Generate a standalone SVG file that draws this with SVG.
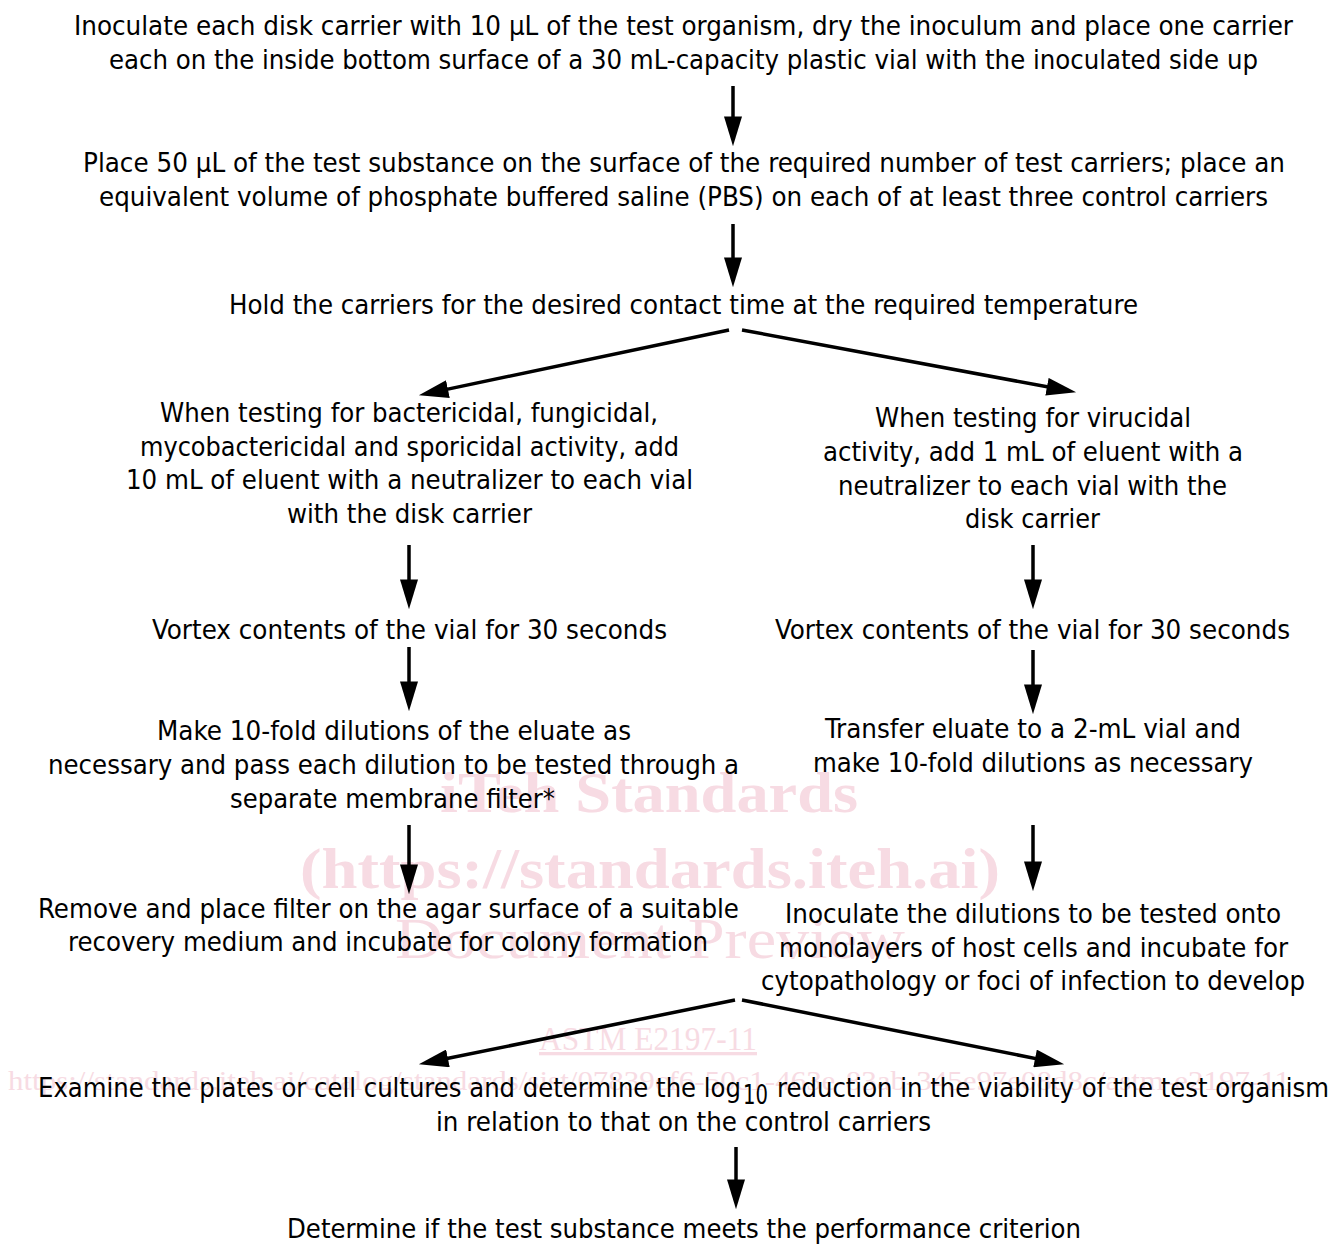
<svg xmlns="http://www.w3.org/2000/svg" width="1333" height="1244" viewBox="0 0 1333 1244">
<style>
.t{font-family:"DejaVu Sans Condensed","DejaVu Sans","Noto Sans",sans-serif;font-size:27px;fill:#000;}
.c{text-anchor:middle;}
.wm{font-family:"Liberation Serif",serif;fill:#f7dbe3;text-anchor:middle;}
.ln{stroke:#000;stroke-width:3.5;fill:none;marker-end:url(#ah);}
</style>
<defs>
<marker id="ah" markerUnits="userSpaceOnUse" markerWidth="30" markerHeight="18" viewBox="0 0 28 17" refX="8" refY="8.5" orient="auto">
<path d="M0,0 L28,8.5 L0,17 z" fill="#000"/>
</marker>
</defs>
<rect width="1333" height="1244" fill="#fff"/>
<g id="watermark">
<text class="wm" x="649" y="812" font-size="56" font-weight="bold" textLength="418" lengthAdjust="spacingAndGlyphs">iTeh Standards</text>
<text class="wm" x="650" y="888" font-size="56" font-weight="bold" textLength="700" lengthAdjust="spacingAndGlyphs">(https://standards.iteh.ai)</text>
<text class="wm" x="650" y="958" font-size="56" textLength="510" lengthAdjust="spacingAndGlyphs">Document Preview</text>
<text class="wm" x="648" y="1050" font-size="33" textLength="218" lengthAdjust="spacingAndGlyphs" text-decoration="underline">ASTM E2197-11</text>
<text class="wm" x="649" y="1090" font-size="27" textLength="1282" lengthAdjust="spacingAndGlyphs">https://standards.iteh.ai/catalog/standards/sist/07839cf6-50c1-463e-83ab-345e97e08d8c/astm-e2197-11</text>
</g>
<g id="n1"><text class="t c" x="683.5" y="35" textLength="1219" lengthAdjust="spacingAndGlyphs">Inoculate each disk carrier with 10 μL of the test organism, dry the inoculum and place one carrier</text>
<text class="t c" x="683.5" y="69" textLength="1149" lengthAdjust="spacingAndGlyphs">each on the inside bottom surface of a 30 mL-capacity plastic vial with the inoculated side up</text></g>
<g id="n2"><text class="t c" x="684" y="172" textLength="1202" lengthAdjust="spacingAndGlyphs">Place 50 μL of the test substance on the surface of the required number of test carriers; place an</text>
<text class="t c" x="683.5" y="206" textLength="1169" lengthAdjust="spacingAndGlyphs">equivalent volume of phosphate buffered saline (PBS) on each of at least three control carriers</text></g>
<g id="n3"><text class="t c" x="683.5" y="314" textLength="909" lengthAdjust="spacingAndGlyphs">Hold the carriers for the desired contact time at the required temperature</text></g>
<g id="n4"><text class="t c" x="409" y="422" textLength="498" lengthAdjust="spacingAndGlyphs">When testing for bactericidal, fungicidal,</text>
<text class="t c" x="409.5" y="456" textLength="539" lengthAdjust="spacingAndGlyphs">mycobactericidal and sporicidal activity, add</text>
<text class="t c" x="409.5" y="489" textLength="567" lengthAdjust="spacingAndGlyphs">10 mL of eluent with a neutralizer to each vial</text>
<text class="t c" x="409.5" y="523" textLength="245" lengthAdjust="spacingAndGlyphs">with the disk carrier</text></g>
<g id="n5"><text class="t c" x="1033" y="427" textLength="316" lengthAdjust="spacingAndGlyphs">When testing for virucidal</text>
<text class="t c" x="1033" y="461" textLength="420" lengthAdjust="spacingAndGlyphs">activity, add 1 mL of eluent with a</text>
<text class="t c" x="1032.5" y="495" textLength="389" lengthAdjust="spacingAndGlyphs">neutralizer to each vial with the</text>
<text class="t c" x="1032.5" y="528" textLength="135" lengthAdjust="spacingAndGlyphs">disk carrier</text></g>
<g id="n6"><text class="t c" x="409.5" y="639" textLength="515" lengthAdjust="spacingAndGlyphs">Vortex contents of the vial for 30 seconds</text></g>
<g id="n7"><text class="t c" x="1032.5" y="639" textLength="515" lengthAdjust="spacingAndGlyphs">Vortex contents of the vial for 30 seconds</text></g>
<g id="n8"><text class="t c" x="394" y="740" textLength="474" lengthAdjust="spacingAndGlyphs">Make 10-fold dilutions of the eluate as</text>
<text class="t c" x="393.5" y="774" textLength="691" lengthAdjust="spacingAndGlyphs">necessary and pass each dilution to be tested through a</text>
<text class="t c" x="392.5" y="808" textLength="325" lengthAdjust="spacingAndGlyphs">separate membrane filter*</text></g>
<g id="n9"><text class="t c" x="1033" y="738" textLength="416" lengthAdjust="spacingAndGlyphs">Transfer eluate to a 2-mL vial and</text>
<text class="t c" x="1033" y="772" textLength="440" lengthAdjust="spacingAndGlyphs">make 10-fold dilutions as necessary</text></g>
<g id="n10"><text class="t c" x="388.5" y="918" textLength="701" lengthAdjust="spacingAndGlyphs">Remove and place filter on the agar surface of a suitable</text>
<text class="t c" x="388" y="951" textLength="640" lengthAdjust="spacingAndGlyphs">recovery medium and incubate for colony formation</text></g>
<g id="n11"><text class="t c" x="1033" y="923" textLength="496" lengthAdjust="spacingAndGlyphs">Inoculate the dilutions to be tested onto</text>
<text class="t c" x="1033.5" y="957" textLength="509" lengthAdjust="spacingAndGlyphs">monolayers of host cells and incubate for</text>
<text class="t c" x="1033" y="990" textLength="544" lengthAdjust="spacingAndGlyphs">cytopathology or foci of infection to develop</text></g>
<g id="n12"><text class="t" x="38" y="1097" textLength="703" lengthAdjust="spacingAndGlyphs">Examine the plates or cell cultures and determine the log</text>
<text class="t" x="743" y="1104" font-size="19" textLength="25" lengthAdjust="spacingAndGlyphs">10</text>
<text class="t" x="777" y="1097" textLength="552" lengthAdjust="spacingAndGlyphs">reduction in the viability of the test organism</text>
<text class="t c" x="683.5" y="1131" textLength="495" lengthAdjust="spacingAndGlyphs">in relation to that on the control carriers</text></g>
<g id="n13"><text class="t c" x="684" y="1238" textLength="794" lengthAdjust="spacingAndGlyphs">Determine if the test substance meets the performance criterion</text></g>
<g id="connectors">
<line class="ln" x1="733" y1="86" x2="733" y2="125"/>
<line class="ln" x1="733" y1="224" x2="733" y2="266"/>
<line class="ln" x1="729" y1="330" x2="439.6" y2="390.9"/>
<line class="ln" x1="742" y1="330" x2="1055.3" y2="388.3"/>
<line class="ln" x1="409" y1="545" x2="409" y2="588"/>
<line class="ln" x1="1033" y1="545" x2="1033" y2="588"/>
<line class="ln" x1="409" y1="647" x2="409" y2="690"/>
<line class="ln" x1="1033" y1="650" x2="1033" y2="693"/>
<line class="ln" x1="409" y1="825" x2="409" y2="873"/>
<line class="ln" x1="1033" y1="825" x2="1033" y2="870"/>
<line class="ln" x1="735" y1="1000" x2="439.6" y2="1060"/>
<line class="ln" x1="742" y1="1000" x2="1043.4" y2="1060.1"/>
<line class="ln" x1="736" y1="1147" x2="736" y2="1188"/>
</g>
</svg>
